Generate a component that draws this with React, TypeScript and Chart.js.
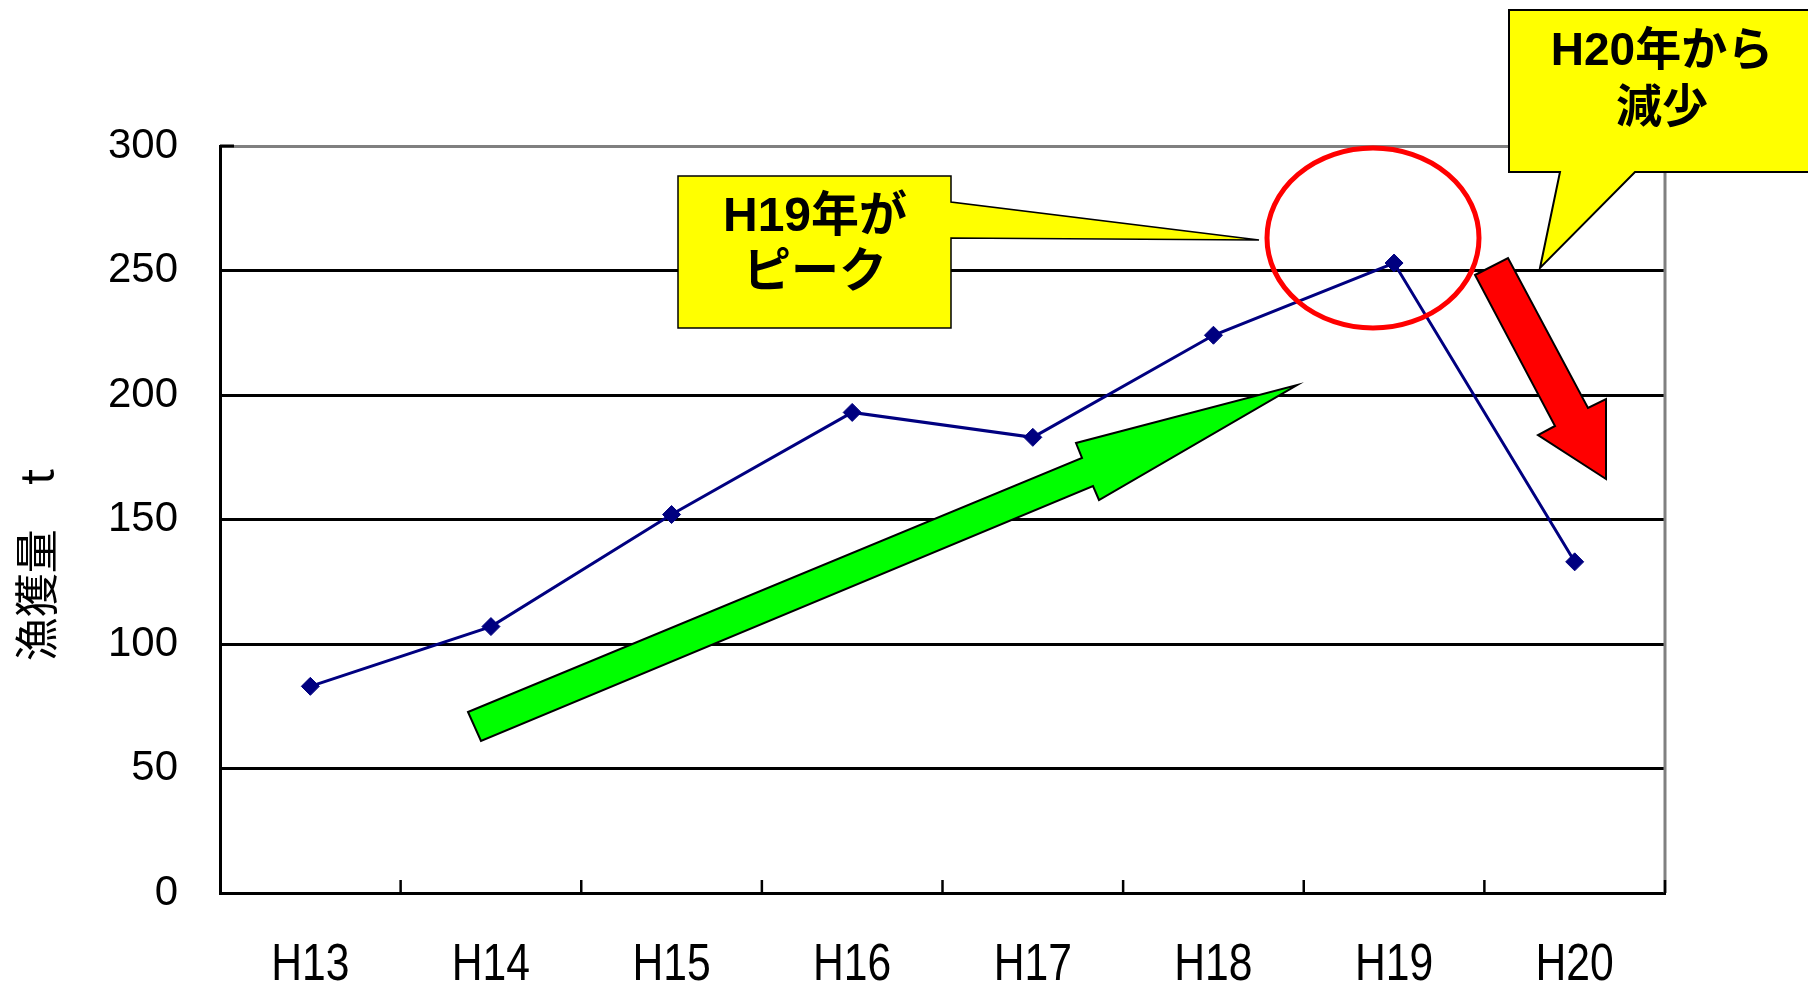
import React, { useEffect, useRef } from "react";
import { Chart, registerables } from "chart.js";

Chart.register(...registerables);

const categories = ["H13", "H14", "H15", "H16", "H17", "H18", "H19", "H20"];
const catchValues = [83, 107, 152, 193, 183, 224, 253, 133];
const yTicks = [0, 50, 100, 150, 200, 250, 300];
const yTitle = "漁獲量　t";
const callout1Lines = ["H19年が", "ピーク"];
const callout2Lines = ["H20年から", "減少"];

const W = 1808;
const H = 987;

const overlayPlugin = {
  id: "overlay",
  afterDraw(chart: any) {
    const ctx = chart.ctx as CanvasRenderingContext2D;
    const area = chart.chartArea;
    const xs = chart.scales.x;
    ctx.save();

    // right border (gray)
    ctx.strokeStyle = "#808080";
    ctx.lineWidth = 3;
    ctx.beginPath();
    ctx.moveTo(area.right, area.top);
    ctx.lineTo(area.right, area.bottom);
    ctx.stroke();

    // x-axis inside ticks at category boundaries
    ctx.strokeStyle = "#000";
    ctx.lineWidth = 2.5;
    const n = categories.length;
    for (let i = 1; i <= n; i++) {
      const x = area.left + ((area.right - area.left) * i) / n;
      ctx.beginPath();
      ctx.moveTo(x, area.bottom);
      ctx.lineTo(x, area.bottom - 13);
      ctx.stroke();
    }
    // inside tick on top gray line
    ctx.lineWidth = 3;
    ctx.beginPath();
    ctx.moveTo(area.left, area.top);
    ctx.lineTo(area.left + 14, area.top);
    ctx.stroke();

    // x category labels (narrow face), positioned by the category scale
    ctx.fillStyle = "#000";
    ctx.font = "52px 'Liberation Sans', sans-serif";
    ctx.textAlign = "center";
    ctx.textBaseline = "middle";
    categories.forEach((c, i) => {
      const x = xs.getPixelForValue(i);
      ctx.save();
      ctx.translate(x, 966);
      ctx.scale(0.82, 1);
      ctx.fillText(c, 0, 0);
      ctx.restore();
    });

    // y axis title
    ctx.save();
    ctx.translate(36, 565);
    ctx.rotate(-Math.PI / 2);
    ctx.fillStyle = "#000";
    ctx.font = "44px 'Noto Sans CJK JP', sans-serif";
    ctx.textAlign = "center";
    ctx.textBaseline = "middle";
    ctx.fillText(yTitle, 0, 0);
    ctx.restore();

    const poly = (pts: number[][], fill: string, stroke: string, lw: number) => {
      ctx.beginPath();
      ctx.moveTo(pts[0][0], pts[0][1]);
      for (let i = 1; i < pts.length; i++) ctx.lineTo(pts[i][0], pts[i][1]);
      ctx.closePath();
      ctx.fillStyle = fill;
      ctx.fill();
      ctx.strokeStyle = stroke;
      ctx.lineWidth = lw;
      ctx.lineJoin = "miter";
      ctx.stroke();
    };

    // green arrow
    poly(
      [
        [468, 712],
        [1082, 458],
        [1076, 443],
        [1297, 385],
        [1099, 500],
        [1093, 486],
        [481, 741],
      ],
      "#00FF00",
      "#000",
      2
    );

    // red ellipse
    ctx.beginPath();
    ctx.ellipse(1373, 238, 106, 90, 0, 0, Math.PI * 2);
    ctx.strokeStyle = "#FF0000";
    ctx.lineWidth = 5;
    ctx.stroke();

    // red arrow
    poly(
      [
        [1475, 275],
        [1508, 258],
        [1588, 408],
        [1606, 399],
        [1606, 479],
        [1538, 435],
        [1555, 426],
      ],
      "#FF0000",
      "#000",
      2
    );

    // callout 1
    poly(
      [
        [678, 176],
        [951, 176],
        [951, 202],
        [1259, 240],
        [951, 238],
        [951, 328],
        [678, 328],
      ],
      "#FFFF00",
      "#000",
      1.5
    );
    // callout 2
    poly(
      [
        [1509, 10],
        [1812, 10],
        [1812, 172],
        [1635, 172],
        [1540, 268],
        [1560, 172],
        [1509, 172],
      ],
      "#FFFF00",
      "#000",
      2
    );

    ctx.fillStyle = "#000";
    ctx.textAlign = "center";
    ctx.textBaseline = "middle";
    ctx.font = "bold 48px 'Liberation Sans', 'Noto Sans CJK JP', sans-serif";
    ctx.fillText(callout1Lines[0], 815, 218);
    ctx.fillText(callout1Lines[1], 815, 274);
    ctx.font = "bold 46px 'Liberation Sans', 'Noto Sans CJK JP', sans-serif";
    ctx.fillText(callout2Lines[0], 1662, 52);
    ctx.fillText(callout2Lines[1], 1662, 109);

    ctx.restore();
  },
};

export default function App() {
  const ref = useRef<HTMLCanvasElement | null>(null);
  useEffect(() => {
    if (!ref.current) return;
    const chart = new Chart(ref.current, {
      type: "line",
      data: {
        labels: categories,
        datasets: [
          {
            data: catchValues,
            borderColor: "#000080",
            backgroundColor: "#000080",
            borderWidth: 3,
            pointStyle: "rectRot",
            pointRadius: 9,
            pointBorderWidth: 1,
            pointBackgroundColor: "#000080",
            pointBorderColor: "#000080",
            tension: 0,
            fill: false,
          },
        ],
      },
      options: {
        responsive: false,
        animation: false,
        devicePixelRatio: 1,
        layout: { padding: { left: 0, right: 143, top: 146, bottom: 0 } },
        plugins: {
          legend: { display: false },
          tooltip: { enabled: false },
          title: { display: false },
        },
        scales: {
          x: {
            type: "category",
            offset: true,
            grid: { display: false, drawTicks: false },
            border: { display: true, color: "#000", width: 3 },
            ticks: { display: false },
            afterFit(scale: any) {
              scale.height = 94;
            },
          },
          y: {
            min: 0,
            max: 300,
            afterBuildTicks(scale: any) {
              scale.ticks = yTicks.map((v) => ({ value: v }));
            },
            grid: {
              drawTicks: false,
              lineWidth: 3,
              color: (c: any) => (c.tick && c.tick.value === 300 ? "#808080" : "#000"),
            },
            border: { display: true, color: "#000", width: 3 },
            ticks: {
              padding: 42,
              color: "#000",
              font: { family: "'Liberation Sans', sans-serif", size: 42 },
            },
            afterFit(scale: any) {
              scale.width = 220;
            },
          },
        },
      },
      plugins: [overlayPlugin],
    });
    return () => chart.destroy();
  }, []);
  return (
    <div style={{ position: "absolute", left: 0, top: 0, width: W, height: H, background: "#fff" }}>
      <canvas ref={ref} width={W} height={H} style={{ width: W, height: H, display: "block" }} />
    </div>
  );
}
